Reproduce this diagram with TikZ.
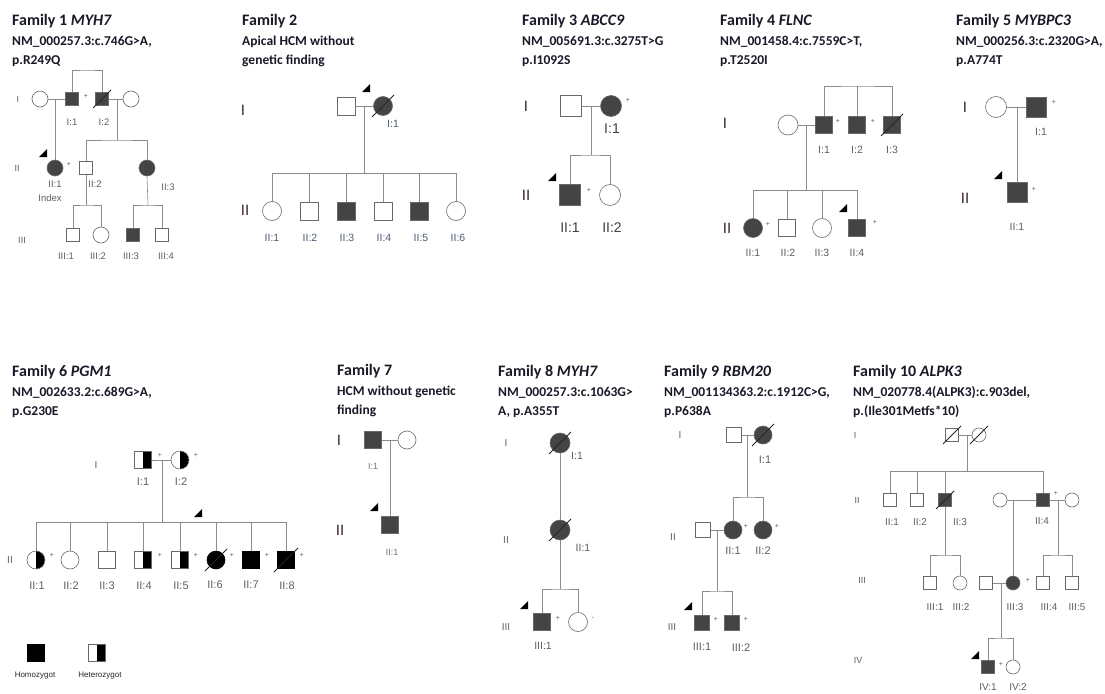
\documentclass[tikz,border=0pt]{standalone}
\usepackage{fontspec}
\setmainfont{Carlito}
\newfontfamily\labf{Liberation Sans}
\usetikzlibrary{calc}
\definecolor{linec}{RGB}{140,140,140}
\definecolor{edgec}{RGB}{105,105,105}
\definecolor{fillc}{RGB}{68,68,68}
\definecolor{labc}{RGB}{95,95,95}
\definecolor{labb}{RGB}{80,90,120}
\definecolor{titc}{RGB}{25,25,40}
\definecolor{genc}{RGB}{55,35,45}
\tikzset{
 sq/.style={rectangle,draw=edgec,fill=white,minimum size=#1,inner sep=0pt,line width=0.6pt},
 ci/.style={circle,draw=edgec,fill=white,minimum size=#1,inner sep=0pt,line width=0.6pt},
 aff/.style={fill=fillc},
 blk/.style={fill=black,draw=black},
 het/.style={path picture={\fill[black] (path picture bounding box.north) rectangle (path picture bounding box.south east);}},
 conn/.style={draw=linec,line width=0.6pt},
 slashs/.style={draw=black!85,line width=0.8pt},
 lab/.style={font=\labf\fontsize{#1}{#1}\selectfont,text=labc,inner sep=0pt},
 labB/.style={font=\labf\fontsize{#1}{#1}\selectfont,text=labb,inner sep=0pt},
 gen/.style={font=\labf\fontsize{#1}{#1}\selectfont,text=genc,inner sep=0pt},
 geng/.style={font=\labf\fontsize{#1}{#1}\selectfont,text=labc,inner sep=0pt},
 ttl/.style={anchor=base west,font=\bfseries\fontsize{16}{16}\selectfont,text=titc,inner sep=0pt},
 sub/.style={anchor=base west,font=\bfseries\fontsize{13.5}{14}\selectfont,text=titc,inner sep=0pt},
 plus/.style={font=\labf\fontsize{7}{7}\selectfont,text=labc,inner sep=0pt},
}
\newcommand\decd[2]{\draw[slashs] ($(#1.center)+(-#2,#2)$) -- ($(#1.center)+(#2,-#2)$);}
\newcommand\prob[2]{\fill[black] (#1-4,#2+4) -- (#1+4,#2+4) -- (#1+4,#2-4) -- cycle;}
\begin{document}
\begin{tikzpicture}[x=1pt,y=-1pt]
\path[use as bounding box,fill=white] (0,0) rectangle (1105,693);

% ---------------- Family 1 ----------------
\node[ttl] (t1) at (12,26) {Family 1 \textit{MYH7}};
\node[sub] (t1b) at (12,46) {NM\_000257.3:c.746G>A,};
\node[sub] (t1c) at (12,65) {p.R249Q};
\node[ci=16] (f1a) at (40,99) {};
\node[sq=13,aff] (f1b) at (72,99) {};
\node[sq=13,aff] (f1c) at (102,99) {};
\node[ci=16] (f1d) at (131,99) {};
\coordinate (f1s0) at (87,70);
\draw[conn] (f1b.north) |- (f1s0) -| (f1c.north);
\draw[conn] (f1a) -- (f1b);
\draw[conn] (f1c) -- (f1d);
\decd{f1c}{9}
\node[plus] (f1p1) at (86,96) {+};
\node[ci=16,aff] (f1e) at (55,168) {};
\coordinate (f1m1) at (55,99);
\draw[conn] (f1m1) -- (f1e.north);
\node[sq=13] (f1f) at (86,168) {};
\node[ci=16,aff] (f1g) at (147,168) {};
\coordinate (f1m2) at (117,99);
\coordinate (f1s1) at (117,140);
\draw[conn] (f1m2) -- (f1s1);
\draw[conn] (f1f.north) |- (f1s1) -| (f1g.north);
\node[plus] (f1p2) at (69,164) {+};
\prob{43}{153}
\node[sq=13] (f1h) at (73,235) {};
\node[ci=16] (f1i) at (101,235) {};
\node[sq=13,aff] (f1j) at (133,235) {};
\node[sq=13] (f1k) at (162,235) {};
\coordinate (f1s2) at (86,205);
\coordinate (f1s3) at (148,205);
\draw[conn] (f1f.south) -- (f1s2);
\draw[conn] (f1h.north) |- (f1s2) -| (f1i.north);
\draw[conn] (f1g.south) -- (f1s3);
\draw[conn] (f1j.north) |- (f1s3) -| (f1k.north);
\node[lab=9.5] (f1l1) at (72,122) {I:1};
\node[lab=9.5] (f1l2) at (104,122) {I:2};
\node[lab=9.5] (f1l3) at (55,184) {II:1};
\node[lab=9.5] (f1l4) at (50,198) {Index};
\node[lab=9.5] (f1l5) at (95,184) {II:2};
\node[lab=9.5] (f1l6) at (168,187) {II:3};
\node[lab=9.5] (f1l7) at (66,256) {III:1};
\node[lab=9.5] (f1l8) at (98,256) {III:2};
\node[lab=9.5] (f1l9) at (131,256) {III:3};
\node[lab=9.5] (f1l10) at (166,256) {III:4};
\node[geng=9] (f1g1) at (18,99) {I};
\node[geng=9] (f1g2) at (17,168) {II};
\node[geng=9] (f1g3) at (22,240) {III};

% ---------------- Family 2 ----------------
\node[ttl] (t2) at (242,26) {Family 2};
\node[sub] (t2b) at (242,46) {Apical HCM without};
\node[sub] (t2c) at (242,65) {genetic finding};
\node[sq=18] (f2a) at (346,106) {};
\node[ci=19,aff] (f2b) at (383,106) {};
\draw[conn] (f2a) -- (f2b);
\decd{f2b}{11}
\prob{366}{88}
\coordinate (f2m) at (364,106);
\coordinate (f2s) at (364,173);
\draw[conn] (f2m) -- (f2s);
\node[ci=19] (f2c) at (272,211) {};
\node[sq=18] (f2d) at (309,211) {};
\node[sq=18,aff] (f2e) at (346,211) {};
\node[sq=18] (f2f) at (383,211) {};
\node[sq=18,aff] (f2g) at (419,211) {};
\node[ci=19] (f2h) at (456,211) {};
\draw[conn] (f2s -| f2c) -- (f2s -| f2h);
\foreach \c in {f2c,f2d,f2e,f2f,f2g,f2h} \draw[conn] (\c.north) -- (\c.north |- f2s);
\node[labB=10.5] (f2l0) at (393,124) {I:1};
\node[labB=10.5] (f2l1) at (272,238) {II:1};
\node[labB=10.5] (f2l2) at (310,238) {II:2};
\node[labB=10.5] (f2l3) at (347,238) {II:3};
\node[labB=10.5] (f2l4) at (384,238) {II:4};
\node[labB=10.5] (f2l5) at (421,238) {II:5};
\node[labB=10.5] (f2l6) at (458,238) {II:6};
\node[gen=15] (f2g1) at (243,110) {I};
\node[gen=15] (f2g2) at (245,210) {II};

% ---------------- Family 3 ----------------
\node[ttl] (t3) at (522,26) {Family 3 \textit{ABCC9}};
\node[sub] (t3b) at (522,46) {NM\_005691.3:c.3275T>G};
\node[sub] (t3c) at (522,65) {p.I1092S};
\node[sq=21] (f3a) at (571,106) {};
\node[ci=21,aff] (f3b) at (611,106) {};
\draw[conn] (f3a) -- (f3b);
\node[plus] (f3p1) at (628,100) {+};
\coordinate (f3m) at (591,106);
\coordinate (f3s) at (591,155);
\draw[conn] (f3m) -- (f3s);
\node[sq=21,aff] (f3c) at (570,195) {};
\node[ci=21] (f3d) at (610,195) {};
\draw[conn] (f3c.north) |- (f3s) -| (f3d.north);
\node[plus] (f3p2) at (589,190) {+};
\prob{552}{177}
\node[lab=14,text=black!75] (f3l1) at (612,129) {I:1};
\node[lab=14,text=black!75] (f3l2) at (570,228) {II:1};
\node[lab=14,text=black!75] (f3l3) at (612,228) {II:2};
\node[gen=15] (f3g1) at (526,106) {I};
\node[gen=15] (f3g2) at (526,195) {II};

% ---------------- Family 4 ----------------
\node[ttl] (t4) at (720,26) {Family 4 \textit{FLNC}};
\node[sub] (t4b) at (720,46) {NM\_001458.4:c.7559C>T,};
\node[sub] (t4c) at (720,65) {p.T2520I};
\node[ci=20] (f4a) at (788,125) {};
\node[sq=17,aff] (f4b) at (824,125) {};
\node[sq=17,aff] (f4c) at (857,125) {};
\node[sq=17,aff] (f4d) at (892,125) {};
\decd{f4d}{11}
\coordinate (f4t) at (857,86);
\draw[conn] (f4b.north) |- (f4t) -| (f4d.north);
\draw[conn] (f4c.north) -- (f4c.north |- f4t);
\draw[conn] (f4a) -- (f4b);
\coordinate (f4m) at (806,125);
\coordinate (f4s) at (806,190);
\draw[conn] (f4m) -- (f4s);
\node[ci=19,aff] (f4e) at (753,228) {};
\node[sq=17] (f4f) at (787,228) {};
\node[ci=19] (f4g) at (822,228) {};
\node[sq=17,aff] (f4h) at (857,228) {};
\draw[conn] (f4s -| f4e) -- (f4s -| f4h);
\foreach \c in {f4e,f4f,f4g,f4h} \draw[conn] (\c.north) -- (\c.north |- f4s);
\node[plus] (f4p1) at (838,121) {+};
\node[plus] (f4p2) at (873,121) {+};
\node[plus] (f4p3) at (768,224) {+};
\node[plus] (f4p4) at (875,222) {+};
\prob{843}{208}
\node[lab=10.5] (f4l1) at (824,150) {I:1};
\node[lab=10.5] (f4l2) at (857,150) {I:2};
\node[lab=10.5] (f4l3) at (892,150) {I:3};
\node[lab=10.5] (f4l4) at (753,253) {II:1};
\node[lab=10.5] (f4l5) at (788,253) {II:2};
\node[lab=10.5] (f4l6) at (822,253) {II:3};
\node[lab=10.5] (f4l7) at (857,253) {II:4};
\node[gen=15] (f4g1) at (725,123) {I};
\node[gen=15] (f4g2) at (727,228) {II};

% ---------------- Family 5 ----------------
\node[ttl] (t5) at (956,26) {Family 5 \textit{MYBPC3}};
\node[sub] (t5b) at (956,46) {NM\_000256.3:c.2320G>A,};
\node[sub] (t5c) at (956,65) {p.A774T};
\node[ci=21] (f5a) at (996,107) {};
\node[sq=20,aff] (f5b) at (1036,107) {};
\draw[conn] (f5a) -- (f5b);
\coordinate (f5m) at (1017,107);
\node[sq=20,aff] (f5c) at (1017,192) {};
\draw[conn] (f5m) -- (f5c.north);
\node[plus] (f5p1) at (1054,102) {+};
\node[plus] (f5p2) at (1034,189) {+};
\prob{998}{175}
\node[lab=10.5] (f5l1) at (1041,132) {I:1};
\node[lab=10.5] (f5l2) at (1017,227) {II:1};
\node[gen=15] (f5g1) at (965,107) {I};
\node[gen=15] (f5g2) at (965,198) {II};

% ---------------- Family 6 ----------------
\node[ttl] (t6) at (12,376) {Family 6 \textit{PGM1}};
\node[sub] (t6b) at (12,396) {NM\_002633.2:c.689G>A,};
\node[sub] (t6c) at (12,415) {p.G230E};
\node[sq=17,het] (f6a) at (143,460) {};
\node[ci=18,het] (f6b) at (180,460) {};
\draw[conn] (f6a) -- (f6b);
\node[plus] (f6p1) at (160,455) {+};
\node[plus] (f6p2) at (196,455) {+};
\coordinate (f6m) at (162,460);
\coordinate (f6s) at (162,522);
\draw[conn] (f6m) -- (f6s);
\node[ci=18,het] (f6c) at (36,560) {};
\node[ci=18] (f6d) at (70,560) {};
\node[sq=17] (f6e) at (107,560) {};
\node[sq=17,het] (f6f) at (143,560) {};
\node[sq=17,het] (f6g) at (180,560) {};
\node[ci=18,blk] (f6h) at (216,560) {};
\node[sq=17,blk] (f6i) at (251,560) {};
\node[sq=17,blk] (f6j) at (286,560) {};
\decd{f6h}{11}
\decd{f6j}{12}
\draw[conn] (f6s -| f6c) -- (f6s -| f6j);
\foreach \c in {f6c,f6d,f6e,f6f,f6g,f6h,f6i,f6j} \draw[conn] (\c.north) -- (\c.north |- f6s);
\node[plus] (f6p3) at (52,555) {+};
\node[plus] (f6p4) at (160,555) {+};
\node[plus] (f6p5) at (196,555) {+};
\node[plus] (f6p6) at (232,555) {+};
\node[plus] (f6p7) at (267,555) {+};
\node[plus] (f6p8) at (302,555) {+};
\prob{198}{513}
\node[lab=11] (f6l1) at (143,482) {I:1};
\node[lab=11] (f6l2) at (181,482) {I:2};
\node[lab=11] (f6l3) at (37,586) {II:1};
\node[lab=11] (f6l4) at (71,586) {II:2};
\node[lab=11] (f6l5) at (107,586) {II:3};
\node[lab=11] (f6l6) at (144,586) {II:4};
\node[lab=11] (f6l7) at (181,586) {II:5};
\node[lab=11] (f6l8) at (215,585) {II:6};
\node[lab=11] (f6l9) at (251,585) {II:7};
\node[lab=11] (f6l10) at (287,586) {II:8};
\node[geng=10] (f6g1) at (96,465) {I};
\node[geng=10] (f6g2) at (10,560) {II};
\node[sq=17,blk] (f6k) at (36,653) {};
\node[sq=17,het] (f6lg) at (97,653) {};
\node[lab=8,text=black!85] (f6h1) at (35,676) {Homozygot};
\node[lab=8,text=black!85] (f6h2) at (100,676) {Heterozygot};

% ---------------- Family 7 ----------------
\node[ttl] (t7) at (337,375) {Family 7};
\node[sub] (t7b) at (337,395) {HCM without genetic};
\node[sub] (t7c) at (337,414) {finding};
\node[sq=17,aff] (f7a) at (373,440) {};
\node[ci=18] (f7b) at (407,440) {};
\draw[conn] (f7a) -- (f7b);
\coordinate (f7m) at (390,440);
\node[sq=17,aff] (f7c) at (390,525) {};
\draw[conn] (f7m) -- (f7c.north);
\prob{374}{507}
\node[lab=9,text=black!55] (f7l1) at (373,466) {I:1};
\node[lab=9,text=black!55] (f7l2) at (392,552) {II:1};
\node[gen=15] (f7g1) at (339,440) {I};
\node[gen=15] (f7g2) at (340,530) {II};

% ---------------- Family 8 ----------------
\node[ttl] (t8) at (498,376) {Family 8 \textit{MYH7}};
\node[sub] (t8b) at (498,396) {NM\_000257.3:c.1063G>};
\node[sub] (t8c) at (498,415) {A, p.A355T};
\node[ci=20,aff] (f8a) at (560,443) {};
\node[ci=20,aff] (f8b) at (560,530) {};
\decd{f8a}{11}
\decd{f8b}{11}
\draw[conn] (f8a) -- (f8b);
\coordinate (f8s) at (560,589);
\draw[conn] (f8b.south) -- (f8s);
\node[sq=17,aff] (f8c) at (542,622) {};
\node[ci=19] (f8d) at (578,622) {};
\draw[conn] (f8c.north) |- (f8s) -| (f8d.north);
\node[plus] (f8p1) at (558,618) {+};
\node[plus] (f8p2) at (593,618) {-};
\prob{524}{605}
\node[lab=10.5] (f8l1) at (577,456) {I:1};
\node[lab=10.5] (f8l2) at (583,548) {II:1};
\node[lab=10.5] (f8l3) at (543,646) {III:1};
\node[geng=10] (f8g1) at (506,443) {I};
\node[geng=10] (f8g2) at (506,540) {II};
\node[geng=10] (f8g3) at (506,627) {III};

% ---------------- Family 9 ----------------
\node[ttl] (t9) at (664,376) {Family 9 \textit{RBM20}};
\node[sub] (t9b) at (664,396) {NM\_001134363.2:c.1912C>G,};
\node[sub] (t9c) at (664,415) {p.P638A};
\node[sq=15] (f9a) at (734,435) {};
\node[ci=18,aff] (f9b) at (763,435) {};
\decd{f9b}{11}
\draw[conn] (f9a) -- (f9b);
\coordinate (f9m) at (747,435);
\coordinate (f9s) at (747,497);
\draw[conn] (f9m) -- (f9s);
\node[ci=18,aff] (f9c) at (733,530) {};
\node[ci=18,aff] (f9d) at (763,530) {};
\draw[conn] (f9c.north) |- (f9s) -| (f9d.north);
\node[sq=15] (f9e) at (703,530) {};
\draw[conn] (f9e) -- (f9c);
\coordinate (f9m2) at (717,530);
\coordinate (f9s2) at (717,591);
\draw[conn] (f9m2) -- (f9s2);
\node[sq=15,aff] (f9f) at (702,623) {};
\node[sq=15,aff] (f9g) at (732,623) {};
\draw[conn] (f9f.north) |- (f9s2) -| (f9g.north);
\node[plus] (f9p1) at (746,526) {+};
\node[plus] (f9p2) at (777,526) {+};
\node[plus] (f9p3) at (716,619) {+};
\node[plus] (f9p4) at (746,619) {+};
\prob{688}{606}
\node[lab=11] (f9l1) at (765,460) {I:1};
\node[lab=11] (f9l2) at (733,551) {II:1};
\node[lab=11] (f9l3) at (763,551) {II:2};
\node[lab=11] (f9l4) at (702,647) {III:1};
\node[lab=11] (f9l5) at (741,648) {III:2};
\node[geng=10] (f9g1) at (680,435) {I};
\node[geng=10] (f9g2) at (673,537) {II};
\node[geng=10] (f9g3) at (672,627) {III};

% ---------------- Family 10 ----------------
\node[ttl] (t10) at (853,376) {Family 10 \textit{ALPK3}};
\node[sub] (t10b) at (853,396) {NM\_020778.4(ALPK3):c.903del,};
\node[sub] (t10c) at (853,415) {p.(Ile301Metfs*10)};
\node[sq=13] (f10a) at (952,435) {};
\node[ci=14] (f10b) at (979,435) {};
\decd{f10a}{9}
\decd{f10b}{9}
\draw[conn] (f10a) -- (f10b);
\coordinate (f10m) at (967,435);
\coordinate (f10s) at (967,471);
\draw[conn] (f10m) -- (f10s);
\node[sq=13] (f10c) at (890,500) {};
\node[sq=13] (f10d) at (917,500) {};
\node[sq=13,aff] (f10e) at (945,500) {};
\node[sq=13,aff] (f10g) at (1043,500) {};
\decd{f10e}{9}
\draw[conn] (f10s -| f10c) -- (f10s -| f10g);
\foreach \c in {f10c,f10d,f10e,f10g} \draw[conn] (\c.north) -- (\c.north |- f10s);
\node[ci=14] (f10f) at (1000,500) {};
\node[ci=14] (f10h) at (1072,500) {};
\draw[conn] (f10f) -- (f10g);
\draw[conn] (f10g) -- (f10h);
\node[plus] (f10p1) at (1056,493) {+};
\coordinate (f10s2) at (945,555);
\draw[conn] (f10e.south) -- (f10s2);
\node[sq=13] (f10i) at (930,583) {};
\node[ci=14] (f10j) at (960,583) {};
\draw[conn] (f10i.north) |- (f10s2) -| (f10j.north);
\coordinate (f10m2) at (1013,500);
\node[ci=14,aff] (f10k) at (1013,583) {};
\draw[conn] (f10m2) -- (f10k.north);
\coordinate (f10m3) at (1058,500);
\coordinate (f10s3) at (1058,555);
\draw[conn] (f10m3) -- (f10s3);
\node[sq=13] (f10l) at (1043,583) {};
\node[sq=13] (f10n) at (1072,583) {};
\draw[conn] (f10l.north) |- (f10s3) -| (f10n.north);
\node[sq=13] (f10o) at (986,583) {};
\draw[conn] (f10o) -- (f10k);
\node[plus] (f10p2) at (1028,580) {+};
\coordinate (f10m4) at (1001,583);
\coordinate (f10s4) at (1001,638);
\draw[conn] (f10m4) -- (f10s4);
\node[sq=13,aff] (f10q) at (988,667) {};
\node[ci=14] (f10r) at (1013,667) {};
\draw[conn] (f10q.north) |- (f10s4) -| (f10r.north);
\node[plus] (f10p3) at (1001,664) {+};
\prob{975}{655}
\node[lab=10] (f10l1) at (892,522) {II:1};
\node[lab=10] (f10l2) at (920,522) {II:2};
\node[lab=10] (f10l3) at (960,522) {II:3};
\node[lab=10] (f10l4) at (1042,521) {II:4};
\node[lab=10] (f10l5) at (935,607) {III:1};
\node[lab=10] (f10l6) at (961,607) {III:2};
\node[lab=10] (f10l7) at (1015,607) {III:3};
\node[lab=10] (f10l8) at (1049,607) {III:4};
\node[lab=10] (f10l9) at (1077,607) {III:5};
\node[lab=10] (f10l10) at (988,687) {IV:1};
\node[lab=10] (f10l11) at (1018,687) {IV:2};
\node[geng=9] (f10g1) at (855,435) {I};
\node[geng=9] (f10g2) at (857,500) {II};
\node[geng=9] (f10g3) at (862,580) {III};
\node[geng=9] (f10g4) at (858,660) {IV};
\end{tikzpicture}
\end{document}
